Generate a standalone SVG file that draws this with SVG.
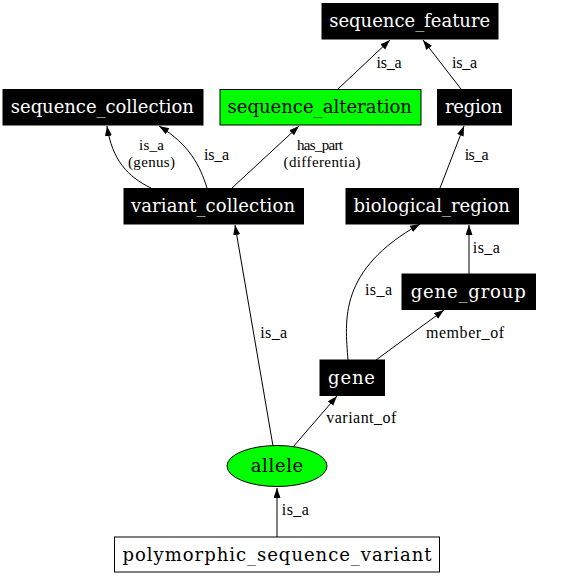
<svg xmlns="http://www.w3.org/2000/svg" width="567" height="576" viewBox="0 0 567 576">
<style>
.blk rect{fill:#000;stroke:#000;}
.blk text{fill:#fff;}
.nl{font-family:"DejaVu Serif",serif;font-size:18px;text-anchor:middle;}
.el{font-family:"Liberation Serif",serif;font-size:16px;text-anchor:middle;fill:#000;}
.el2{font-family:"Liberation Serif",serif;font-size:15px;text-anchor:middle;fill:#000;}
.e{fill:none;stroke:#000;stroke-width:1;marker-end:url(#ah);}
</style>
<defs>
<marker id="ah" markerUnits="userSpaceOnUse" markerWidth="10" markerHeight="8" refX="10" refY="3.5" orient="auto">
<path d="M0,0 L10,3.5 L0,7 z" fill="#000"/>
</marker>
</defs>
<rect width="567" height="576" fill="#fff"/>
<g id="edges">
<path class="e" d="M338,89 L390,40"/>
<path class="e" d="M461,89 L423,40"/>
<path class="e" d="M151,188 C128,177 112,160 107,126"/>
<path class="e" d="M207,188 C200,166 190,145 159,126"/>
<path class="e" d="M232,188 L299,126"/>
<path class="e" d="M440,188 L464,126"/>
<path class="e" d="M469,274 L469,225"/>
<path class="e" d="M348,360 C345,320 338,270 420,224"/>
<path class="e" d="M376,360 L444,310"/>
<path class="e" d="M273,446 L235,225"/>
<path class="e" d="M293,447 L337,396"/>
<path class="e" d="M277,537 L277,488"/>
<text class="el" x="389" y="68" textLength="25">is_a</text>
<text class="el" x="464.5" y="68" textLength="25">is_a</text>
<text class="el2" x="151.5" y="150" textLength="25">is_a</text>
<text class="el2" x="151.5" y="167" textLength="47">(genus)</text>
<text class="el" x="216.5" y="160" textLength="25">is_a</text>
<text class="el2" x="320" y="150" textLength="46">has_part</text>
<text class="el2" x="322" y="167" textLength="77">(differentia)</text>
<text class="el" x="476.7" y="160" textLength="24">is_a</text>
<text class="el" x="486.3" y="253" textLength="27">is_a</text>
<text class="el" x="378.5" y="295" textLength="27">is_a</text>
<text class="el" x="273.7" y="338" textLength="27">is_a</text>
<text class="el" x="465" y="338" textLength="78">member_of</text>
<text class="el" x="361.3" y="423" textLength="70">variant_of</text>
<text class="el" x="295.3" y="515" textLength="27">is_a</text>
</g>
<g id="sequence_feature" class="blk"><rect x="322" y="3.5" width="176" height="35.5"/><text class="nl" x="409.7" y="27" textLength="161">sequence_feature</text></g>
<g id="sequence_collection" class="blk"><rect x="3" y="89.5" width="200" height="35.5"/><text class="nl" x="102.3" y="113" textLength="183">sequence_collection</text></g>
<g id="sequence_alteration"><rect x="220" y="89.5" width="201" height="35.5" fill="#00ff00" stroke="#000"/><text class="nl" x="319.7" y="113" textLength="184.5">sequence_alteration</text></g>
<g id="region" class="blk"><rect x="437.5" y="89.5" width="74" height="35.5"/><text class="nl" x="473.8" y="113" textLength="57.5">region</text></g>
<g id="variant_collection" class="blk"><rect x="124" y="188.5" width="179.5" height="35.5"/><text class="nl" x="213" y="212" textLength="164">variant_collection</text></g>
<g id="biological_region" class="blk"><rect x="346" y="188.5" width="172.5" height="35.5"/><text class="nl" x="431.7" y="212" textLength="156.5">biological_region</text></g>
<g id="gene_group" class="blk"><rect x="402" y="274" width="133.5" height="35.5"/><text class="nl" x="468.2" y="297.5" textLength="115">gene_group</text></g>
<g id="gene" class="blk"><rect x="320" y="360" width="64.5" height="35.5"/><text class="nl" x="351.5" y="383.5" textLength="47">gene</text></g>
<g id="allele"><ellipse cx="277" cy="466" rx="50" ry="20.5" fill="#00ff00" stroke="#000"/><text class="nl" x="277" y="471.5" fill="#000" textLength="52.5">allele</text></g>
<g id="polymorphic_sequence_variant"><rect x="114.5" y="537" width="325" height="35" fill="#fff" stroke="#000"/><text class="nl" x="277" y="560.5" fill="#000" textLength="309">polymorphic_sequence_variant</text></g>
</svg>
